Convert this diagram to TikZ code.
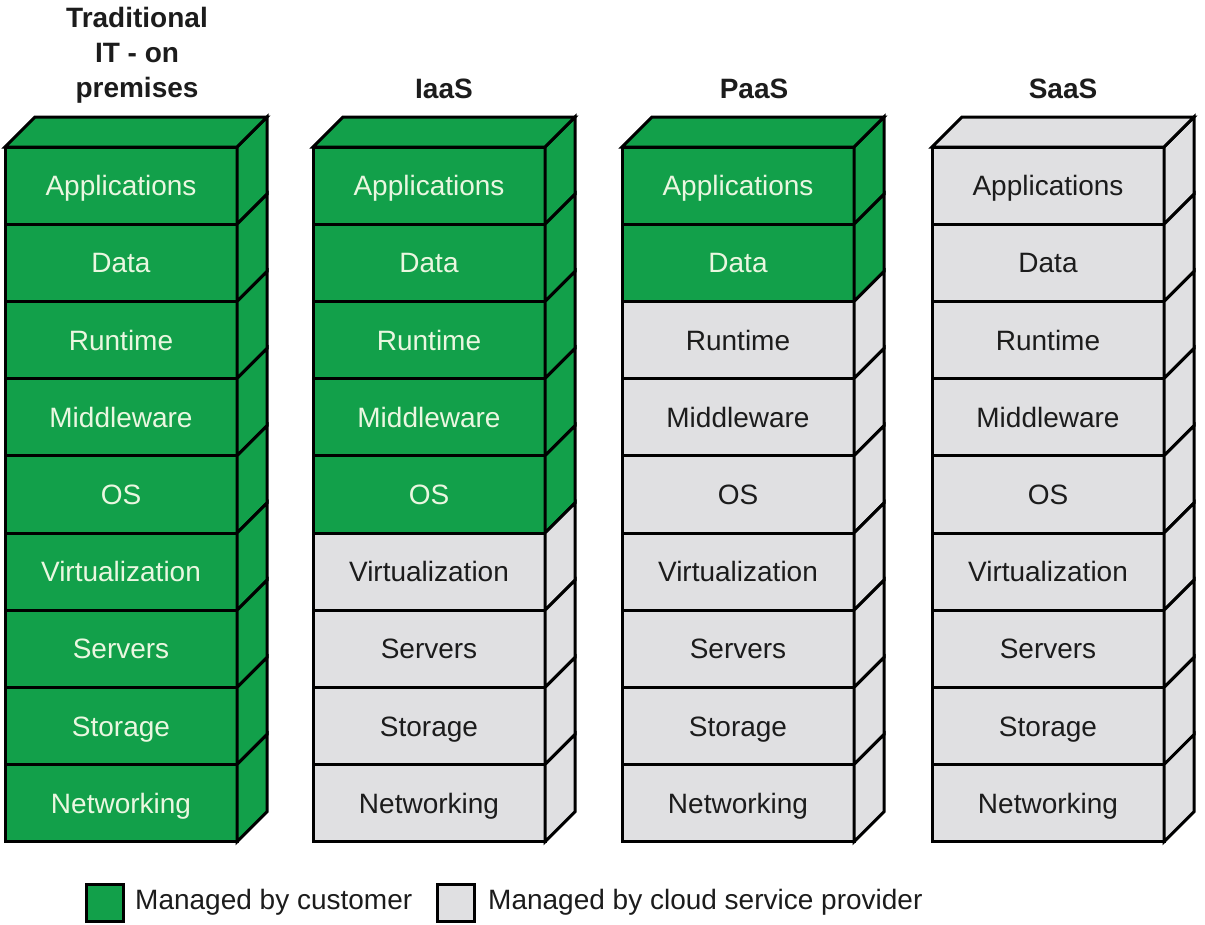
\documentclass[tikz,border=0pt]{standalone}
\usepackage{fontspec}
\setmainfont{Liberation Sans}
\definecolor{cgreen}{RGB}{18,160,74}
\definecolor{cgray}{RGB}{224,224,226}
\definecolor{ctextlight}{RGB}{234,247,224}
\definecolor{ctextdark}{RGB}{28,28,28}
\begin{document}
\begin{tikzpicture}[x=1pt,y=-1pt,line join=miter,
  layer/.style={draw=black,line width=3pt,minimum width=232pt,minimum height=77.2pt,
    inner sep=0pt,outer sep=0pt,anchor=north west,text height=20pt,text depth=0pt,
    font=\fontsize{28}{32}\selectfont},
  cust/.style={layer,fill=cgreen,text=ctextlight},
  prov/.style={layer,fill=cgray,text=ctextdark},
  face/.style={draw=black,line width=3pt},
  title/.style={font=\bfseries\fontsize{28}{35}\selectfont,align=center,text=ctextdark,inner sep=0pt},
  legbox/.style={draw=black,line width=3pt,minimum width=37pt,minimum height=37pt,inner sep=0pt},
  legtext/.style={anchor=west,inner sep=0pt,font=\fontsize{28}{32}\selectfont,text=ctextdark}]
\useasboundingbox (0,0) rectangle (1205,924);
\fill[white] (0,0) rectangle (1205,924);
% columns
\foreach \col/\x/\g in {a/5/9,b/313/5,c/622/2,d/932/0}{
  \foreach \name [count=\i from 0] in {Applications,Data,Runtime,Middleware,OS,Virtualization,Servers,Storage,Networking}{
    \pgfmathsetmacro{\yt}{147+77.2*\i}
    \ifnum\i<\g\relax
      \tikzset{cur/.style={cust}}\def\fc{cgreen}
    \else
      \tikzset{cur/.style={prov}}\def\fc{cgray}
    \fi
    \node[cur] (\col\i) at (\x,\yt) {\name};
    \filldraw[face,fill=\fc] (\col\i.north east) -- ++(30,-30) -- ++(0,77.2) -- (\col\i.south east) -- cycle;
    \ifnum\i=0\relax
      \filldraw[face,fill=\fc] (\col\i.north west) -- ++(30,-30) -- ++(232,0) -- (\col\i.north east) -- cycle;
    \fi
  }
}
% titles
\node[title] (ta) at (137,55) {Traditional\\IT - on\\premises};
\node[title] (tb) at (444,89) {IaaS};
\node[title] (tc) at (754,89) {PaaS};
\node[title] (td) at (1063,89) {SaaS};
% legend
\node[legbox,fill=cgreen] (lg) at (105,902.5) {};
\node[legtext] (lgt) at (135,902.5) {Managed by customer};
\node[legbox,fill=cgray] (lp) at (456,902.5) {};
\node[legtext] (lpt) at (488,902.5) {Managed by cloud service provider};
\end{tikzpicture}
\end{document}
